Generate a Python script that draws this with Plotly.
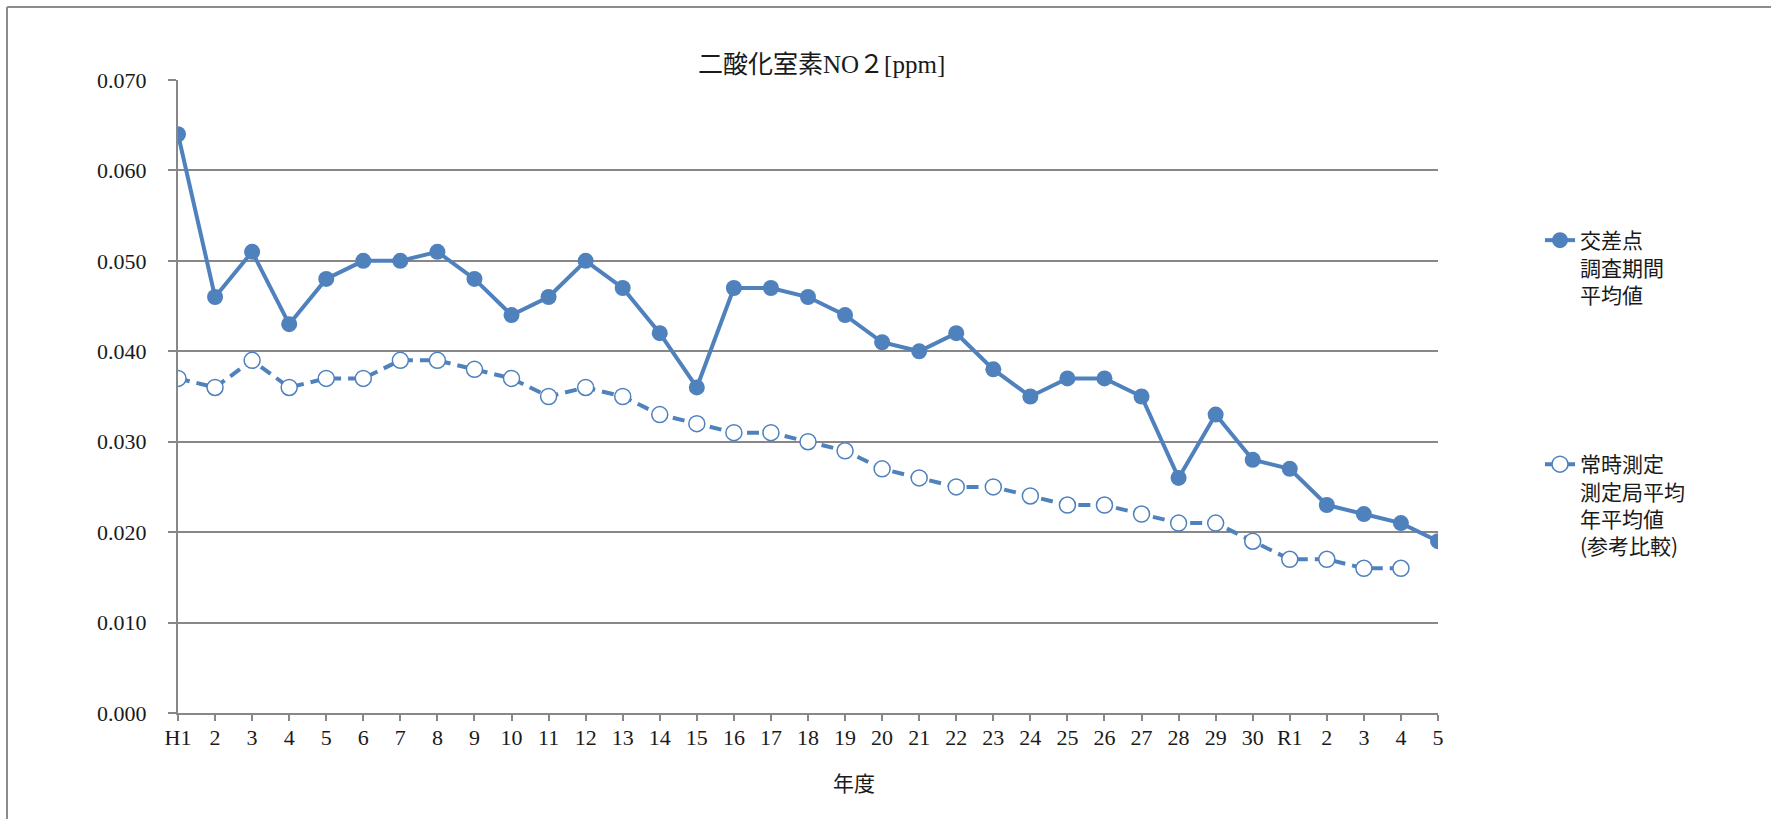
import plotly.graph_objects as go

categories = ["H1", "2", "3", "4", "5", "6", "7", "8", "9", "10", "11", "12", "13", "14", "15",
              "16", "17", "18", "19", "20", "21", "22", "23", "24", "25", "26", "27", "28", "29", "30",
              "R1", "2", "3", "4", "5"]
intersection = [0.064, 0.046, 0.051, 0.043, 0.048, 0.050, 0.050, 0.051, 0.048, 0.044, 0.046, 0.050,
                0.047, 0.042, 0.036, 0.047, 0.047, 0.046, 0.044, 0.041, 0.040, 0.042, 0.038, 0.035,
                0.037, 0.037, 0.035, 0.026, 0.033, 0.028, 0.027, 0.023, 0.022, 0.021, 0.019]
station = [0.037, 0.036, 0.039, 0.036, 0.037, 0.037, 0.039, 0.039, 0.038, 0.037, 0.035, 0.036,
           0.035, 0.033, 0.032, 0.031, 0.031, 0.030, 0.029, 0.027, 0.026, 0.025, 0.025, 0.024,
           0.023, 0.023, 0.022, 0.021, 0.021, 0.019, 0.017, 0.017, 0.016, 0.016, None]
y_ticks = [0.0, 0.01, 0.02, 0.03, 0.04, 0.05, 0.06, 0.07]
y_ticklabels = ["0.000", "0.010", "0.020", "0.030", "0.040", "0.050", "0.060", "0.070"]

idx = list(range(len(categories)))
blue = "#4F81BD"
grid = "#878787"
txt = "#1a1a1a"
serif = "Liberation Serif, Noto Sans CJK JP"
sans = "Noto Sans CJK JP, Noto Sans"

fig = go.Figure()
fig.add_trace(go.Scatter(
    x=idx, y=intersection, mode="lines+markers",
    name="交差点<br>調査期間<br>平均値",
    line=dict(color=blue, width=4),
    marker=dict(symbol="circle", size=16, color=blue),
    legend="legend",
))
fig.add_trace(go.Scatter(
    x=idx, y=station, mode="lines+markers",
    name="常時測定<br>測定局平均<br>年平均値<br>(参考比較)",
    line=dict(color=blue, width=4, dash="12px,7px"),
    marker=dict(symbol="circle", size=16, color="white", line=dict(color=blue, width=1.5)),
    legend="legend2",
    connectgaps=False,
))

L, R, T, B = 178, 333, 80, 106
W, H = 1771, 819
pw, ph = W - L - R, H - T - B

def px_x(p):
    return (p - L) / pw

def px_y(p):
    return (H - B - p) / ph

fig.update_layout(
    width=W, height=H,
    margin=dict(l=L, r=R, t=T, b=B, autoexpand=False),
    paper_bgcolor="white", plot_bgcolor="white",
    showlegend=True,
    legend=dict(x=px_x(1540), y=px_y(220), xanchor="left", yanchor="top",
                font=dict(family=sans, size=21, color=txt), valign="top",
                bgcolor="rgba(0,0,0,0)"),
    legend2=dict(x=px_x(1540), y=px_y(444), xanchor="left", yanchor="top",
                 font=dict(family=sans, size=21, color=txt), valign="top",
                 bgcolor="rgba(0,0,0,0)"),
    xaxis=dict(
        range=[0, len(categories) - 1],
        tickmode="array", tickvals=idx, ticktext=categories,
        showgrid=False, zeroline=False,
        showline=True, linecolor=grid, linewidth=2,
        ticks="outside", ticklen=6, tickwidth=1.5, tickcolor=grid,
        tickfont=dict(family=serif, size=22, color=txt),
        ticklabelstandoff=-2,
    ),
    yaxis=dict(
        range=[0, 0.07],
        tickmode="array", tickvals=y_ticks, ticktext=y_ticklabels,
        showgrid=True, gridcolor=grid, gridwidth=1.5,
        zeroline=False,
        showline=True, linecolor=grid, linewidth=2,
        ticks="outside", ticklen=8, tickwidth=1.5, tickcolor=grid,
        tickfont=dict(family=serif, size=22, color=txt),
        ticklabelstandoff=17,
    ),
    annotations=[
        dict(text="二酸化室素NO２[ppm]", x=px_x(821), y=px_y(64), xref="paper", yref="paper",
             showarrow=False, font=dict(family=serif, size=25, color=txt),
             xanchor="center", yanchor="middle"),
        dict(text="年度", x=px_x(854), y=px_y(782), xref="paper", yref="paper",
             showarrow=False, font=dict(family=sans, size=21, color=txt),
             xanchor="center", yanchor="middle"),
    ],
    shapes=[
        dict(type="line", xref="paper", yref="paper", x0=px_x(7), x1=px_x(1800),
             y0=px_y(7), y1=px_y(7), line=dict(color="#8c8c8c", width=2), layer="below"),
        dict(type="line", xref="paper", yref="paper", x0=px_x(7), x1=px_x(7),
             y0=px_y(7), y1=px_y(900), line=dict(color="#8c8c8c", width=2), layer="below"),
    ],
)

fig.write_html("out.html", config={"displayModeBar": False},
               post_script="document.body.style.margin='0';")
